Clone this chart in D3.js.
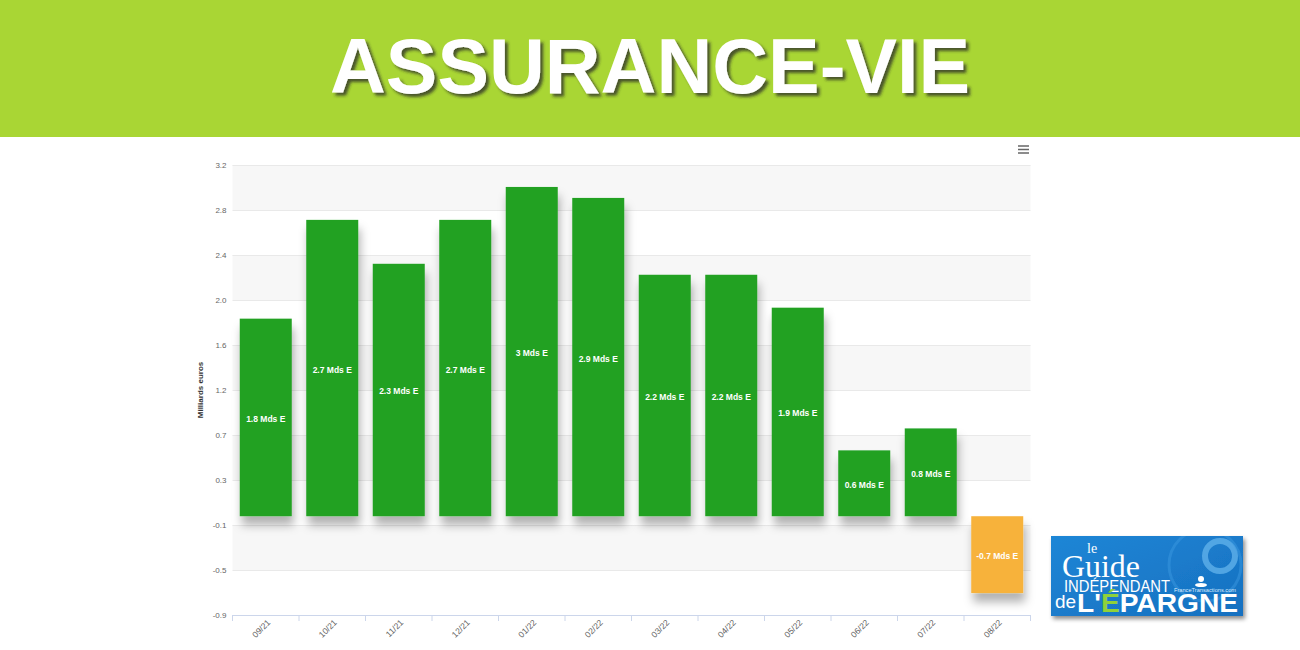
<!DOCTYPE html>
<html>
<head>
<meta charset="utf-8">
<script src="https://cdn.jsdelivr.net/npm/d3@7"></script>
<style>
  html, body { margin: 0; padding: 0; background: #fff; }
  svg { display: block; }
</style>
</head>
<body>
<svg id="chart" width="1300" height="650"></svg>
<script>
// ---- data ----
const categories = ["09/21","10/21","11/21","12/21","01/22","02/22","03/22","04/22","05/22","06/22","07/22","08/22"];
const values = [1.8, 2.7, 2.3, 2.7, 3.0, 2.9, 2.2, 2.2, 1.9, 0.6, 0.8, -0.7];
const yTicks = [-0.9, -0.49, -0.08, 0.33, 0.74, 1.15, 1.56, 1.97, 2.38, 2.79, 3.2];
const yTickLabels = ["-0.9","-0.5","-0.1","0.3","0.7","1.2","1.6","2.0","2.4","2.8","3.2"];
const titleText = "ASSURANCE-VIE";
const yAxisTitle = "Milliards euros";
const labelSuffix = " Mds E";

const svg = d3.select("#chart");
const defs = svg.append("defs");

const titleShadow = defs.append("filter").attr("id", "tshadow")
  .attr("x", "-10%").attr("y", "-20%").attr("width", "120%").attr("height", "150%");
titleShadow.append("feDropShadow").attr("dx", 3).attr("dy", 3)
  .attr("stdDeviation", 1.6).attr("flood-color", "#2b2b2b").attr("flood-opacity", 0.75);

const barShadow = defs.append("filter").attr("id", "bshadow")
  .attr("x", "-30%").attr("y", "-20%").attr("width", "160%").attr("height", "160%");
barShadow.append("feDropShadow").attr("dx", 2).attr("dy", 9)
  .attr("stdDeviation", 5).attr("flood-color", "#000").attr("flood-opacity", 0.3);

const logoShadow = defs.append("filter").attr("id", "lshadow")
  .attr("x", "-10%").attr("y", "-10%").attr("width", "130%").attr("height", "140%");
logoShadow.append("feDropShadow").attr("dx", 2).attr("dy", 3)
  .attr("stdDeviation", 2).attr("flood-color", "#000").attr("flood-opacity", 0.45);

const logoGrad = defs.append("linearGradient").attr("id", "lgrad")
  .attr("x1", 0).attr("y1", 0).attr("x2", 1).attr("y2", 1);
logoGrad.append("stop").attr("offset", "0%").attr("stop-color", "#1f86d6");
logoGrad.append("stop").attr("offset", "100%").attr("stop-color", "#1670c0");

defs.append("clipPath").attr("id", "lclip")
  .append("rect").attr("x", 1051).attr("y", 536).attr("width", 192).attr("height", 80);

// ---- banner ----
svg.append("rect").attr("x", 0).attr("y", 0).attr("width", 1300).attr("height", 137)
  .attr("fill", "#a9d634");
svg.append("text").attr("x", 650).attr("y", 93)
  .attr("text-anchor", "middle")
  .attr("font-family", "Liberation Sans, Arial, sans-serif")
  .attr("font-weight", "bold").attr("font-size", 77)
  .attr("fill", "#ffffff").attr("filter", "url(#tshadow)")
  .attr("textLength", 640).attr("lengthAdjust", "spacingAndGlyphs")
  .text(titleText);

// ---- chart ----
const plot = { left: 232.5, right: 1030.5, top: 165, bottom: 615 };

const x = d3.scaleBand().domain(categories)
  .range([plot.left, plot.right])
  .paddingInner(0.218).paddingOuter(0.109);
const y = d3.scaleLinear().domain([-0.9, 3.2]).range([plot.bottom, plot.top]);

// alternate bands
const bandsG = svg.append("g");
for (let i = 0; i < yTicks.length - 1; i++) {
  if (i % 2 === 1) {
    bandsG.append("rect")
      .attr("x", plot.left).attr("width", plot.right - plot.left)
      .attr("y", y(yTicks[i + 1])).attr("height", y(yTicks[i]) - y(yTicks[i + 1]))
      .attr("fill", "#f7f7f7");
  }
}

// y axis
const yAxis = d3.axisLeft(y).tickValues(yTicks)
  .tickFormat((d, i) => yTickLabels[i])
  .tickSize(-(plot.right - plot.left)).tickPadding(6);
const yg = svg.append("g").attr("transform", `translate(${plot.left},0)`).call(yAxis);
yg.select(".domain").remove();
yg.selectAll(".tick line").attr("stroke", "#e9e9e9").attr("stroke-width", 1);
yg.selectAll(".tick text")
  .attr("font-family", "Liberation Sans, Arial, sans-serif")
  .attr("font-size", 8).attr("fill", "#666");

// y axis title
svg.append("text")
  .attr("transform", `translate(203,${(plot.top + plot.bottom) / 2}) rotate(-90)`)
  .attr("text-anchor", "middle")
  .attr("font-family", "Liberation Sans, Arial, sans-serif")
  .attr("font-size", 8).attr("font-weight", "bold").attr("fill", "#333")
  .text(yAxisTitle);

// x axis
const xAxis = d3.axisBottom(x).tickSize(0).tickPadding(0);
const xg = svg.append("g").attr("transform", `translate(0,${plot.bottom})`).call(xAxis);
xg.select(".domain").attr("stroke", "#ccd6eb").attr("stroke-width", 1);
xg.selectAll(".tick text")
  .attr("font-family", "Liberation Sans, Arial, sans-serif")
  .attr("font-size", 8.5).attr("fill", "#606060")
  .attr("text-anchor", "end")
  .attr("transform", "translate(3,6) rotate(-45)")
  .attr("dy", "0.35em");
// category boundary ticks
const boundaries = categories.map(c => x(c) - x.step() * x.paddingInner() / 2)
  .concat([plot.right]);
xg.selectAll("line.bound").data(boundaries).enter().append("line")
  .attr("class", "bound")
  .attr("x1", d => d).attr("x2", d => d).attr("y1", 0).attr("y2", 6)
  .attr("stroke", "#ccd6eb");

// bars
const barsG = svg.append("g");
barsG.selectAll("rect").data(values).enter().append("rect")
  .attr("x", (d, i) => x(categories[i]))
  .attr("width", x.bandwidth())
  .attr("y", d => y(Math.max(0, d)))
  .attr("height", d => Math.abs(y(d) - y(0)))
  .attr("fill", d => d >= 0 ? "#20a124" : "#f7b23b")
  .attr("filter", "url(#bshadow)");

// bar labels
svg.append("g").selectAll("text").data(values).enter().append("text")
  .attr("x", (d, i) => x(categories[i]) + x.bandwidth() / 2)
  .attr("y", d => (y(d) + y(0)) / 2 + 1.5)
  .attr("dy", "0.35em")
  .attr("text-anchor", "middle")
  .attr("font-family", "Liberation Sans, Arial, sans-serif")
  .attr("font-size", 8.5).attr("font-weight", "bold").attr("fill", "#fff")
  .text(d => String(d) + labelSuffix);

// menu icon
const menu = svg.append("g").attr("stroke", "#666").attr("stroke-width", 1.5);
[146, 149.5, 153].forEach(yy => {
  menu.append("line").attr("x1", 1018).attr("x2", 1029).attr("y1", yy).attr("y2", yy);
});

// ---- logo ----
const logo = svg.append("g");
logo.append("rect").attr("x", 1051).attr("y", 536).attr("width", 192).attr("height", 80)
  .attr("fill", "url(#lgrad)").attr("filter", "url(#lshadow)");
const deco = logo.append("g").attr("clip-path", "url(#lclip)");
deco.append("circle").attr("cx", 1220).attr("cy", 556).attr("r", 15)
  .attr("fill", "none").attr("stroke", "#5fb0ea").attr("stroke-width", 6).attr("opacity", 0.8);
deco.append("circle").attr("cx", 1205).attr("cy", 565).attr("r", 36)
  .attr("fill", "none").attr("stroke", "#3a98e0").attr("stroke-width", 3).attr("opacity", 0.5);
logo.append("text").attr("x", 1087).attr("y", 553)
  .attr("font-family", "Liberation Serif, serif").attr("font-size", 14).attr("fill", "#fff")
  .text("le");
logo.append("text").attr("x", 1062).attr("y", 577)
  .attr("font-family", "Liberation Serif, serif").attr("font-size", 31).attr("fill", "#fff")
  .attr("textLength", 78).attr("lengthAdjust", "spacingAndGlyphs")
  .text("Guide");
logo.append("text").attr("x", 1064).attr("y", 592)
  .attr("font-family", "Liberation Sans, Arial, sans-serif").attr("font-size", 17).attr("fill", "#fff")
  .attr("textLength", 106).attr("lengthAdjust", "spacingAndGlyphs")
  .text("INDÉPENDANT");
logo.append("text").attr("x", 1174).attr("y", 592)
  .attr("font-family", "Liberation Sans, Arial, sans-serif").attr("font-size", 4.5).attr("fill", "#d8ecff")
  .attr("textLength", 62).attr("lengthAdjust", "spacingAndGlyphs")
  .text("FranceTransactions.com");
logo.append("circle").attr("cx", 1201).attr("cy", 579).attr("r", 3).attr("fill", "#fff");
logo.append("ellipse").attr("cx", 1201).attr("cy", 585).attr("rx", 6).attr("ry", 2).attr("fill", "#fff");
logo.append("text").attr("x", 1055).attr("y", 608)
  .attr("font-family", "Liberation Sans, Arial, sans-serif").attr("font-size", 19).attr("fill", "#fff")
  .text("de");
const ep = logo.append("text").attr("x", 1077).attr("y", 612)
  .attr("font-family", "Liberation Sans, Arial, sans-serif").attr("font-size", 26)
  .attr("font-weight", "bold").attr("fill", "#fff")
  .attr("textLength", 161).attr("lengthAdjust", "spacingAndGlyphs");
ep.append("tspan").text("L'");
ep.append("tspan").attr("fill", "#8fd13a").text("É");
ep.append("tspan").text("PARGNE");
</script>
</body>
</html>
